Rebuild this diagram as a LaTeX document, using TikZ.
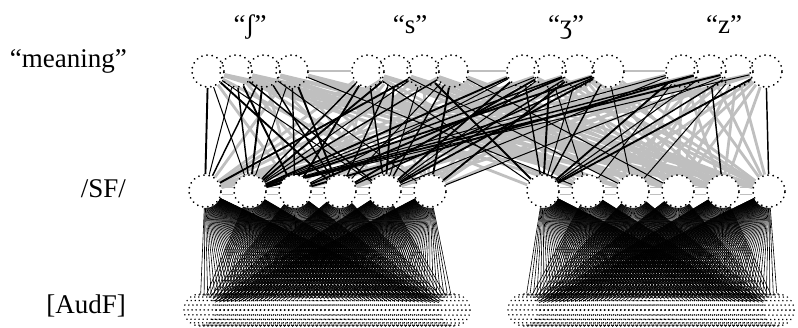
\documentclass[tikz,border=0pt]{standalone}
\usepackage{fontspec}
\setmainfont{Liberation Serif}
\pgfdeclarelayer{background}
\pgfsetlayers{background,main}
\begin{document}
\begin{tikzpicture}[x=1pt,y=-1pt,
  dotring/.style={circle,minimum size=32pt,inner sep=0pt,draw=black,
    line width=2pt,dash pattern=on 0.01pt off 5.2pt,line cap=round},
  meanunit/.style={dotring},
  sfunit/.style={dotring,fill=white},
  audunit/.style={dotring,line width=1.7pt,dash pattern=on 0.01pt off 5pt},
  lab/.style={font=\fontsize{27}{32}\selectfont,inner sep=0pt},
  negw/.style={draw=black!25,line width=2.8pt},
  posw/.style={draw=black},
  lateral/.style={draw=black!25,line width=1.5pt},
  bottomup/.style={draw=black,line width=0.6pt}]
\useasboundingbox (0,0) rectangle (798,327);

% layer labels
\node[lab,anchor=base east] (lmeaning) at (127,67) {“meaning”};
\node[lab,anchor=base east] (lsf) at (126,197) {/SF/};
\node[lab,anchor=base east] (laud) at (126,313) {[AudF]};
\node[lab,anchor=base] (tsh) at (250,33) {“ʃ”};
\node[lab,anchor=base] (ts) at (410,33) {“s”};
\node[lab,anchor=base] (tzh) at (566,33) {“ʒ”};
\node[lab,anchor=base] (tz) at (724,33) {“z”};

% meaning units
\foreach \x [count=\i] in {208,236,264,292,368,395,423,452,523,550,578,608,682,710,737,766}
  \node[meanunit] (m\i) at (\x,71) {};

% surface-form units
\foreach \x [count=\i] in {205,250,295,340,385,430,543,588,633,678,723,769}
  \node[sfunit] (f\i) at (\x,191) {};

% auditory-form units
\foreach \i in {1,...,64} {
  \node[audunit] (a\i) at ({200+(\i-1)*254/63},310) {};
  \node[audunit] (b\i) at ({524+(\i-1)*254/63},310) {};
}

\begin{pgfonlayer}{background}
  % auditory to surface connections
  \foreach \j in {1,...,6}
    \foreach \i in {1,...,64}
      \draw[bottomup] (f\j) -- (a\i);
  \foreach \j in {7,...,12}
    \foreach \i in {1,...,64}
      \draw[bottomup] (f\j) -- (b\i);

  % lateral connections
  \draw[lateral,line width=2pt] (m4) -- (m5);
  \draw[lateral,line width=2pt] (m8) -- (m9);
  \draw[lateral,line width=2pt] (m12) -- (m13);
  \foreach \j [evaluate=\j as \k using int(\j+1)] in {1,...,5,7,8,9,10,11} {
    \draw[lateral,line width=1.2pt] ([yshift=-3.5pt]f\j.east) -- ([yshift=-3.5pt]f\k.west);
    \draw[lateral,line width=1.2pt] ([yshift=3.5pt]f\j.east) -- ([yshift=3.5pt]f\k.west);
  }

  % meaning to surface connections: inhibitory (grey) and excitatory (black)
  \def\weights{%
    1/{2,1,4,5}/{3,6,9,11,8,12,10},
    2/{2,3,5,1}/{4,7,10,12,9,6},
    3/{1,2,6,4}/{5,8,9,11,3,12},
    4/{2,4,8,3}/{5,6,10,11,1,9,12},
    5/{2,5,3,7}/{1,4,8,10,6,11,12},
    6/{4,2,9,5}/{1,3,6,11,12,8,10},
    7/{5,1,7,2}/{3,9,10,11,12,6},
    8/{2,6,5,10,4}/{1,8,12,9,11},
    9/{2,7,5,3}/{1,9,11,10,12,6},
    10/{7,2,4,8,5}/{1,6,10,12,11,3},
    11/{7,5,2,3,6}/{1,9,11,10,12,4},
    12/{7,2,5,9,4}/{1,10,12,11,3,6},
    13/{7,2,5,8}/{1,10,11,12,3,9,4},
    14/{7,2,3,11}/{1,9,10,12,6,5,8},
    15/{7,2,6,9}/{1,8,10,11,4,12,3},
    16/{12,7,2}/{1,9,10,11,8,4,5}}
  \foreach \m/\pos/\neg in \weights
    \foreach \s in \neg
      \draw[negw] (m\m) -- (f\s);
  \foreach \m/\pos/\neg in \weights
    \foreach \s in \pos {
      \pgfmathsetmacro\lw{1+0.45*mod(\m+\s,3)}
      \draw[posw,line width=\lw pt] (m\m) -- (f\s);
    }
\end{pgfonlayer}
\end{tikzpicture}
\end{document}
